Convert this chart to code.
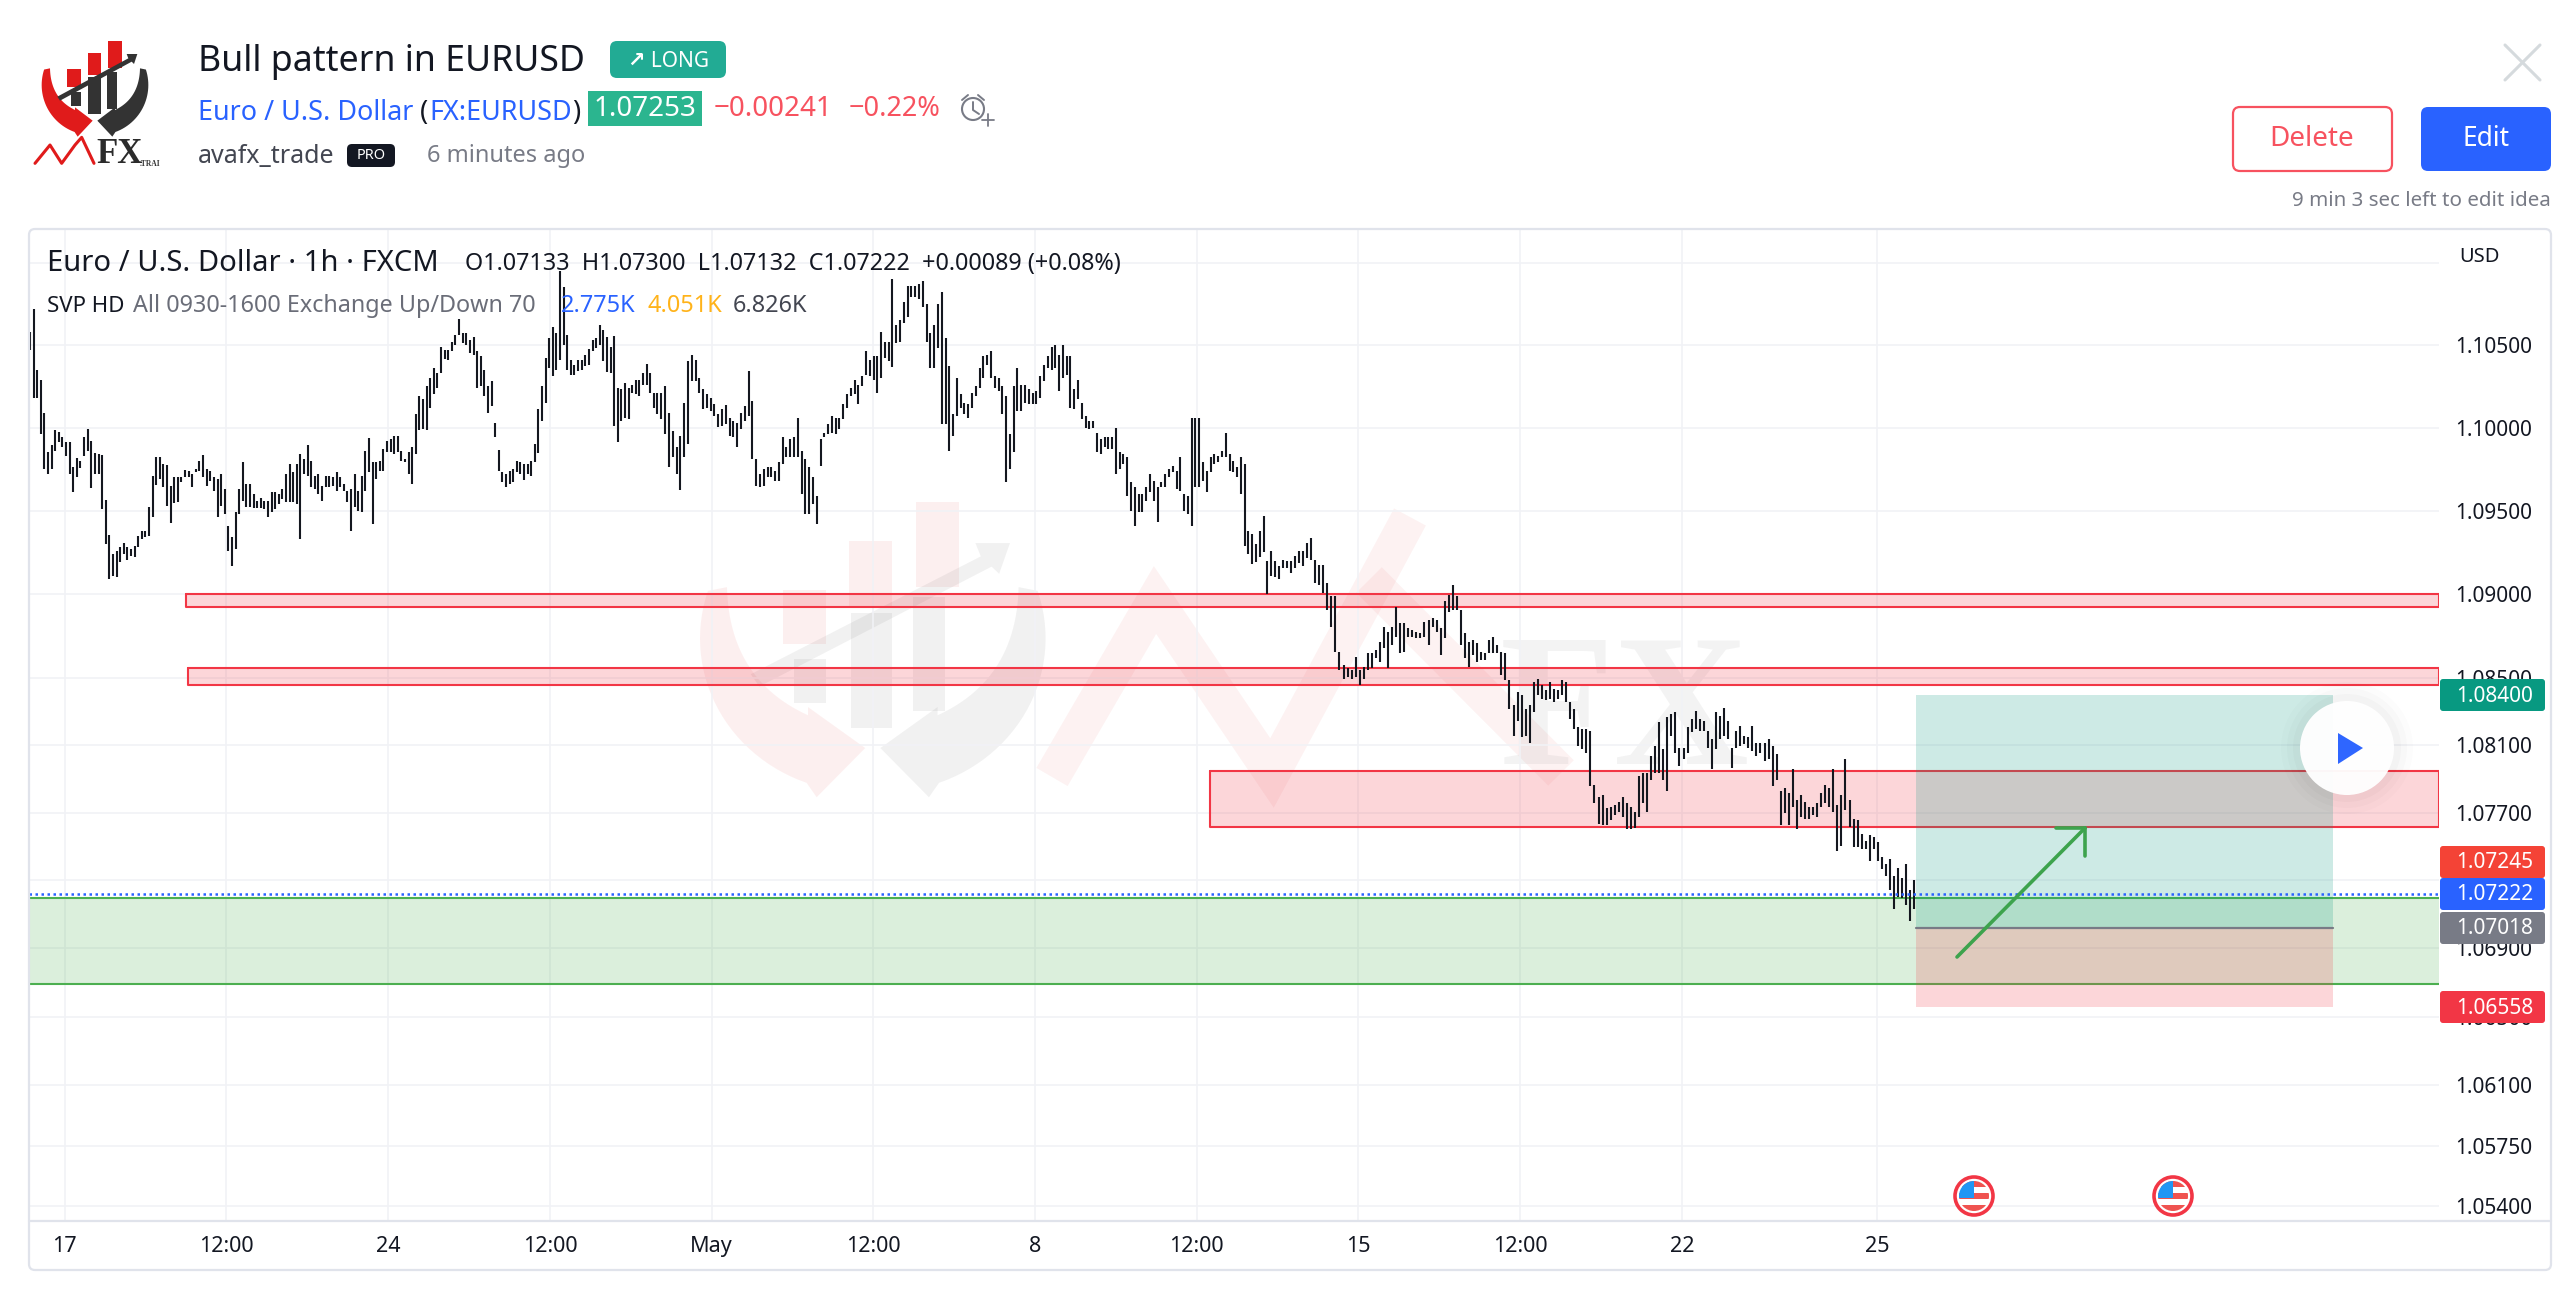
import numpy as np, pandas as pd, seaborn as sns
import matplotlib
matplotlib.use("Agg")
import matplotlib.pyplot as plt
from matplotlib.patches import Rectangle, Circle, Polygon, FancyBboxPatch
from matplotlib.lines import Line2D
from matplotlib.transforms import Affine2D
from matplotlib.ticker import NullLocator, NullFormatter

# ---- data: hourly bar (high, low) in price points (price x 100000)
bars_april = [
(110580,110470),(110720,110180),(110350,110180),(110290,109960),(110086,109750),(109850,109720),(109896,109750),(109984,109860),
(109976,109910),(109940,109880),(109910,109830),(109910,109720),(109760,109614),(109816,109700),(109800,109756),(109940,109830),
(109990,109860),(109920,109636),(109844,109720),(109840,109720),(109836,109510),(109564,109300),(109354,109090),(109240,109110),
(109256,109104),(109280,109190),(109308,109240),(109280,109204),(109270,109230),(109290,109224),(109350,109280),(109380,109330),
(109380,109340),(109520,109350),(109710,109460),(109824,109656),(109820,109690),(109780,109640),(109776,109530),(109650,109424),
(109704,109544),(109700,109550),(109704,109670),(109744,109700),(109740,109700),(109720,109640),(109750,109730),(109800,109740),
(109836,109700),(109750,109650),(109740,109680),(109700,109620),(109690,109460),(109720,109530),(109630,109480),(109410,109260),
(109340,109170),(109490,109270),(109630,109480),(109790,109560),(109660,109520),(109660,109520),(109600,109516),(109560,109516),
(109576,109516),(109560,109510),(109560,109464),(109610,109490),(109610,109510),(109600,109540),(109630,109570),(109720,109550),
(109780,109550),(109730,109550),(109780,109540),(109840,109330),(109810,109720),(109894,109710),(109800,109640),(109710,109630),
(109720,109600),(109650,109556),(109710,109640),(109710,109640),(109700,109650),(109730,109620),(109700,109640),(109660,109620),
(109620,109550),(109630,109376),(109720,109520),(109620,109500),(109710,109490),(109860,109620),(109934,109730),(109790,109420),
(109790,109690),(109800,109740),(109870,109740),(109920,109850),(109930,109850),(109950,109840),(109950,109850),(109860,109800),
(109810,109790),(109850,109720),(109880,109660),(110080,109840),(110190,109984),(110170,109990),(110250,109986),(110300,110120),
(110360,110200),(110330,110240),(110490,110330),(110470,110416),(110470,110410),(110520,110460),(110560,110500),(110660,110560),
(110570,110510),(110570,110500),(110530,110450),(110550,110440),(110460,110240),(110430,110250),(110350,110190),(110250,110090),
(110280,110130),(110030,109940),(109864,109740),(109730,109670),(109720,109640),(109740,109660),(109750,109670),(109800,109730),
(109790,109720),(109780,109684),(109780,109720),(109800,109710),(109900,109790),(110110,109844),(110250,110040),(110420,110150),
(110540,110360),(110610,110310),(110570,110350),(110950,110410),(110850,110500),(110560,110350),(110410,110320),(110380,110316),
(110410,110340),(110410,110350),(110440,110370),(110476,110380),(110530,110460),(110540,110480),(110620,110500),(110590,110400),
(110550,110334),(110490,110330),(110556,110010),(110240,109914),(110230,110040),(110270,110060),(110240,110050),(110260,110210),
(110290,110200),(110290,110190),(110330,110260),(110384,110260),(110330,110210),(110210,110120),(110210,110080)]
bars_early_may = [
(110210,110050),(110250,109960),(110090,109760),(109980,109820),(109880,109720),(109950,109624),(110150,109820),(110400,109900),
(110436,110280),(110410,110280),(110300,110210),(110230,110110),(110200,110120),(110180,110100),(110140,110070),(110080,110004),
(110110,110010),(110136,110020),(110060,109950),(110040,109940),(110030,109880),(110090,109990),(110130,110040),(110340,110070),
(110160,109810),(109810,109650),(109720,109640),(109750,109650),(109760,109700),(109760,109700),(109740,109680),(109790,109680),
(109940,109780),(109880,109820),(109930,109820),(109940,109820),(110060,109820),(109860,109600),(109810,109480),(109760,109480),
(109700,109540),(109590,109420),(109930,109770),(109970,109940),(110020,109960),(110070,109970),(110060,109960),(110060,109990),
(110140,110050),(110200,110120),(110240,110190),(110290,110200),(110260,110140),(110310,110250),(110460,110320),(110410,110310),
(110430,110290),(110430,110210),(110580,110300),(110520,110420),(110520,110400),(110900,110364),(110620,110510),(110650,110520),
(110760,110630),(110860,110670),(110860,110790),(110860,110790),(110870,110780),(110890,110730),(110750,110520),(110570,110360),
(110620,110360),(110750,110480),(110820,110020),(110540,110020),(110370,109860),(110080,109950),(110300,110070),(110200,110120),
(110150,110080),(110140,110060),(110210,110120),(110250,110190),(110360,110240),(110430,110300),(110440,110380),(110460,110300),
(110310,110240),(110300,110220),(110250,110080),(110190,109670),(109960,109750),(110250,109850),(110360,110100),(110260,110100),
(110260,110150),(110230,110140),(110210,110140),(110220,110140),(110310,110180),(110380,110280),(110430,110360),(110490,110350),
(110500,110360),(110440,110220),(110500,110300),(110430,110320),(110430,110120),(110230,110110),(110290,110170),(110150,110050),
(110070,110000),(110040,109990),(110040,110000),(109970,109850),(109930,109840),(109940,109880),(109940,109870),(109940,109870),
(110000,109720),(109850,109750),(109840,109780),(109820,109590),(109670,109500),(109640,109410),(109600,109490),(109600,109490),
(109640,109560),(109720,109610),(109680,109560),(109640,109430),(109670,109640),(109720,109640),(109750,109700),(109770,109730),
(109740,109630),(109820,109620),(109600,109500),(109590,109480),(110060,109410),(110060,109640),(110060,109640),(109790,109680),
(109740,109610),(109820,109730),(109840,109780),(109830,109790),(109860,109820),(109970,109820),(109840,109740),(109800,109730),
(109760,109700),(109820,109600),(109780,109290),(109380,109240),(109360,109180),(109300,109190),(109380,109220),(109470,109250),
(109200,109000),(109260,109110),(109200,109100),(109170,109090)]
bars_late_may = [
(109205,109155),(109195,109155),(109195,109125),(109225,109155),(109255,109185),(109255,109165),(109305,109215),(109335,109205),
(109205,109065),(109175,109055),(109175,109005),(109065,108905),(108985,108805),(108985,108655),(108655,108545),(108575,108495),
(108555,108505),(108545,108495),(108625,108505),(108545,108455),(108565,108495),(108645,108545),(108645,108555),(108665,108615),
(108715,108595),(108805,108675),(108775,108559),(108805,108695),(108919,108745),(108825,108645),(108825,108655),(108795,108745),
(108785,108745),(108775,108735),(108765,108739),(108835,108745),(108845,108695),(108855,108805),(108845,108775),(108795,108635),
(108955,108735),(108995,108895),(109055,108905),(108985,108905),(108905,108695),(108765,108615),(108715,108565),(108725,108635),
(108705,108595),(108655,108605),(108645,108605),(108725,108645),(108745,108645),(108695,108645),(108655,108515),(108645,108485),
(108485,108315),(108335,108155),(108415,108245),(108395,108145),(108315,108155),(108335,108111),(108475,108295),(108495,108395),
(108455,108375),(108425,108365),(108475,108375),(108435,108355),(108425,108375),(108485,108395),(108475,108355),(108355,108255),
(108315,108195),(108205,108095),(108195,108075),(108195,108055),(108185,107855),(107865,107755),(107795,107635),(107805,107625),
(107725,107625),(107735,107655),(107745,107685),(107765,107705),(107795,107675),(107755,107605),(107735,107605),(107705,107611),
(107915,107675),(107935,107755),(107935,107705),(108035,107895),(108095,107935),(108235,107935),(108075,107895),(108265,107825),
(108285,108155),(108295,108055),(108085,107975),(108085,108015),(108205,108055),(108255,108175),(108305,108195),(108255,108185),
(108245,108185),(108185,108085),(108135,107955),(108295,108075),(108275,108135),(108319,108155),(108245,108135),(108085,107965),
(108185,108085),(108215,108095),(108155,108105),(108145,108085),(108215,108065),(108115,108035),(108115,108055),(108115,108005),
(108135,108015),(108095,107855),(108045,107895),(107825,107625),(107845,107695),(107815,107625),(107955,107735),(107775,107605),
(107805,107675),(107765,107665),(107735,107665),(107735,107685),(107755,107675),(107815,107735),(107865,107755),(107845,107735),
(107955,107705),(107745,107475),(107805,107505),(108015,107715),(107775,107615),(107665,107495),(107655,107495),(107575,107485),
(107535,107485),(107565,107415),(107555,107485),(107525,107415),(107435,107365),(107395,107325),(107425,107245),(107325,107131),
(107375,107205),(107315,107195),(107395,107155),(107245,107059),(107300,107132)]

price_ticks = [1.054,1.0575,1.061,1.065,1.069,1.073,1.077,1.081,1.085,1.09,1.095,1.10,1.105,1.11]
price_tick_labels = ["1.05400","1.05750","1.06100","1.06500","1.06900","","1.07700","1.08100",
                     "1.08500","1.09000","1.09500","1.10000","1.10500",""]
time_tick_labels = ["17","12:00","24","12:00","May","12:00","8","12:00","15","12:00","22","25"]
time_tick_bars = [8.6,48.6,88.6,128.6,168.6,208.6,248.6,288.6,328.6,368.6,408.6,456.9]

zone_prices = [(1.09000,1.08919),(1.08555,1.08459),(1.07945,1.07615)]
zone_start_bars = [38.6,39.2,291.9]
support_zone = (1.07195,1.06692)
last_price = 1.07222
target_price, entry_price, stop_price = 1.08400,1.07018,1.06558
price_labels = ["1.08400","1.07245","1.07222","1.07018","1.06558"]
price_label_colors = ["#089981","#f44336","#2962ff","#787b86","#f23645"]
price_label_tops = [679,846,878,912,991]

# ---- theme
sns.set_theme(style="white")
plt.rcParams['font.family'] = ['Noto Sans','DejaVu Sans']
W,H = 2560,1294
fig = plt.figure(figsize=(W/100,H/100),dpi=100,facecolor="white")
PX = Affine2D().scale(1,-1).translate(0,H)   # picture pixels (origin top left) to display
L,R,T,B = 29,2439,229,1221
ax = fig.add_axes([L/W,(H-B)/H,(R-L)/W,(B-T)/H],facecolor="none")
ax.set_zorder(0)

# ---- bars through seaborn
def frame(seg,start,stop):
    a = np.array(seg,dtype=float)/1e5
    x = np.linspace(start,stop,len(a))
    return pd.DataFrame({"bar":np.r_[x,x],"bar_id":np.r_[x,x],"price":np.r_[a[:,0],a[:,1]]})
df = pd.concat([frame(bars_april,0,155.2),frame(bars_early_may,156.2,308.9),frame(bars_late_may,309.9,466.1)])
ax.set_yscale("log")
sns.lineplot(data=df,x="bar",y="price",units="bar_id",estimator=None,sort=False,color="#14171f",
             lw=1.5,ax=ax,legend=False,zorder=3,solid_capstyle="butt")
ax.set_xlim(-0.25,595.9)
ax.set_ylim(1.05313,1.11205)
ax.set(xlabel="",ylabel="")
ax.yaxis.tick_right()
ax.yaxis.set_minor_locator(NullLocator()); ax.yaxis.set_minor_formatter(NullFormatter())
ax.set_yticks(price_ticks); ax.set_yticklabels(price_tick_labels)
ax.set_xticks(time_tick_bars); ax.set_xticklabels(time_tick_labels)
ax.tick_params(axis="y",length=0,pad=12,labelsize=15,labelcolor="#131722")
ax.tick_params(axis="x",length=0,pad=11,labelsize=15.5,labelcolor="#131722")
ax.get_xticklabels()[4].set_fontweight("bold")
ax.grid(True,color="#f1f2f6",lw=1.2); ax.set_axisbelow(True)
for s in ax.spines.values(): s.set_visible(False)

# ---- logo shared by header and watermark
def logo_parts():
    th = np.radians(np.linspace(198,110,30))
    outer = np.c_[215+150*np.cos(th),165+150*np.sin(th)]
    t = np.linspace(1,0,30)
    inner = np.c_[(1-t)**2*90+2*t*(1-t)*92+t**2*165,(1-t)**2*115+2*t*(1-t)*205+t**2*240]
    red = np.r_[outer,[[173,320],[218,272],[165,232]],inner]
    dark = red.copy(); dark[:,0] = 450-dark[:,0]
    parts = [(red,"#e01b1b")]
    parts.append((dark,"#333333"))
    for x0,x1,y0,y1 in [(142,182,118,170),(203,243,70,135),(265,305,32,115)]:
        parts.append((np.array([[x0,y0],[x1,y0],[x1,y1],[x0,y1]]),"#e01b1b"))
    for x0,x1,y0,y1 in [(152,182,185,228),(205,243,140,252),(262,292,125,236)]:
        parts.append((np.array([[x0,y0],[x1,y0],[x1,y1],[x0,y1]]),"#333333"))
    parts.append((np.array([[112,200],[325,85],[320,72],[352,72],[342,102],[335,95],[120,212]]),"#333333"))
    return parts
def draw_logo(sx,sy,ox,oy,alpha,target,z):
    for pts,col in logo_parts():
        p = Polygon(np.c_[ox+pts[:,0]*sx,oy+pts[:,1]*sy],closed=True,fc=col,ec="none",alpha=alpha,
                    transform=PX,zorder=z)
        target(p)
# watermark
draw_logo(1.08,1.025,700-65*1.08,500-30*1.025,0.065,ax.add_artist,0.5)
for xs,ys in (([1052,1155,1272,1410],[777,600,773,517]),([1369,1561],[580,773])):
    ax.add_artist(Line2D(xs,ys,color="#e01b1b",alpha=0.055,lw=26,transform=PX,zorder=0.5,
                         solid_joinstyle="miter",solid_capstyle="butt"))
ax.text(1625,718,"FX",transform=PX,ha="center",va="center",family="Liberation Serif",fontweight="bold",
        fontsize=135,color="#333333",alpha=0.055,zorder=0.5)

# ---- analysis zones
xr = ax.get_xlim()[1]
for (top,bot),start in zip(zone_prices,zone_start_bars):
    ax.fill_between([start,xr],[bot,bot],[top,top],color="#f23645",alpha=0.2,lw=0,zorder=2)
    ax.plot([start,xr,xr,start,start],[top,top,bot,bot,top],color="#f23645",lw=1.5,zorder=2.2,clip_on=True)
ax.fill_between([-0.25,xr],[support_zone[1]]*2,[support_zone[0]]*2,color="#4caf50",alpha=0.2,lw=0,zorder=2)
for v in support_zone:
    ax.axhline(v,color="#4caf50",lw=1.5,zorder=2.2)
ax.axhline(last_price,color="#2962ff",lw=1.8,ls=(0,(1,1.4)),zorder=4)
# long position tool
x0,x1 = 466.5,569.7
ax.fill_between([x0,x1],[entry_price]*2,[target_price]*2,color="#089981",alpha=0.2,lw=0,zorder=2.5)
ax.fill_between([x0,x1],[stop_price]*2,[entry_price]*2,color="#f23645",alpha=0.2,lw=0,zorder=2.5)
ax.plot([x0,x1],[entry_price]*2,color="#787b86",lw=1.6,zorder=3)
for xs,ys in (([1957,2085],[957,828]),([2056,2085],[828,828]),([2085,2085],[828,856])):
    ax.add_artist(Line2D(xs,ys,color="#3da34d",lw=2.6,transform=PX,zorder=5,solid_capstyle="round"))

# ---- helpers for chrome
def box(x0,y0,x1,y1,fc,ec="none",lw=0,r=6,z=5,alpha=1):
    p = FancyBboxPatch((x0,y0),x1-x0,y1-y0,boxstyle=f"round,pad=0,rounding_size={r}",fc=fc,ec=ec,lw=lw,
                       transform=PX,zorder=z,alpha=alpha,mutation_aspect=1)
    fig.add_artist(p); return p
def txt(x,y,s,size=15,color="#131722",ha="left",weight="normal",z=6,**k):
    return fig.text(x,y+4.5,s,transform=PX,fontsize=size,color=color,ha=ha,va="center",fontweight=weight,zorder=z,**k)
def line(xs,ys,color,lw,z=6):
    fig.add_artist(Line2D(xs,ys,color=color,lw=lw,transform=PX,zorder=z,solid_capstyle="round"))

# frame drawn over chart, under labels
box(L,T,2551,1270,"none",ec="#e0e3eb",lw=1.6,r=6,z=1)
line([L,2551],[B,B],"#e0e3eb",1.6,z=1)

# price labels
for s,c,t in zip(price_labels,price_label_colors,price_label_tops):
    p = FancyBboxPatch((2440,t),105,32,boxstyle="round,pad=0,rounding_size=3",fc=c,ec="none",transform=PX,zorder=5)
    fig.add_artist(p)
    txt(2456,t+12.5,s,size=15,color="white")
txt(2459,253,"USD",size=14.5)

# header
draw_logo(1/3,1/3,20,30,1,fig.add_artist,4)
pts = np.array([[45,400],[90,345],[125,400],[165,345],[185,322],[222,400]])
line(20+pts[:,0]/3,30+pts[:,1]/3,"#e01b1b",2.2)
txt(96,150,"FX",size=25,color="#2b2b2b",family="Liberation Serif",weight="bold")
txt(140,159,".TRAI",size=5.5,color="#333333",family="Liberation Serif",weight="bold")
txt(198,57,"Bull pattern in EURUSD",size=25.7)
box(610,41,726,78,"#22ab94",r=7)
txt(668,57,"↗ LONG",size=15,color="white",ha="center",weight="semibold")
txt(198,109,"Euro / U.S. Dollar",size=19.4,color="#2962ff")
txt(420,109,"(",size=19.4); txt(429,109,"FX:EURUSD",size=19.4,color="#2962ff"); txt(572,109,")",size=19.4)
fig.add_artist(Rectangle((588,91),114,35,fc="#2bb58f",ec="none",transform=PX,zorder=5))
txt(645,104,"1.07253",size=20,color="white",ha="center")
txt(714,104,"−0.00241",size=20,color="#f7525f")
txt(849,104,"−0.22%",size=19.5,color="#f7525f")
fig.add_artist(Circle((973,109),11,fc="none",ec="#787b86",lw=1.5,transform=PX,zorder=6))
line([973,973,979],[102,110,114],"#787b86",1.4)
line([962,968],[100,95],"#787b86",1.4); line([978,984],[95,100],"#787b86",1.4)
line([988,988],[114,126],"#787b86",1.3); line([982,994],[120,120],"#787b86",1.3)
txt(198,152,"avafx_trade",size=18,color="#434651")
box(347,144,395,167,"#131722",r=5)
txt(371,151,"PRO",size=10.5,color="white",ha="center",weight="bold")
txt(427,152,"6 minutes ago",size=17,color="#787b86")
line([2505,2540],[45,80],"#d5dadd",2.2); line([2505,2540],[80,45],"#d5dadd",2.2)
box(2233,107,2392,171,"white",ec="#f7525f",lw=1.6,r=7)
txt(2312,135,"Delete",size=20,color="#f7525f",ha="center")
box(2421,107,2551,171,"#2962ff",r=7)
txt(2486,135,"Edit",size=19,color="white",ha="center")
txt(2551,196,"9 min 3 sec left to edit idea",size=14.8,color="#787b86",ha="right")

# legend lines in chart
txt(47,259,"Euro / U.S. Dollar · 1h · FXCM",size=21)
txt(465,259,"O1.07133  H1.07300  L1.07132  C1.07222  +0.00089 (+0.08%)",size=16.8)
txt(47,302,"SVP HD",size=16)
txt(133,302,"All 0930-1600 Exchange Up/Down 70",size=16.8,color="#6a6d78")
txt(561,302,"2.775K",size=16.9,color="#2962ff")
txt(648,302,"4.051K",size=16.9,color="#ffb31a")
txt(733,302,"6.826K",size=16.9,color="#434651")

# play button
for r,a in ((66,0.012),(60,0.015),(54,0.02)):
    fig.add_artist(Circle((2347,748),r,fc="black",ec="none",alpha=a,transform=PX,zorder=5))
fig.add_artist(Circle((2347,748),47,fc="white",ec="none",alpha=0.96,transform=PX,zorder=5))
fig.add_artist(Polygon([[2338,733],[2363,748],[2338,764]],closed=True,fc="#2f66ff",ec="none",transform=PX,zorder=6))

# US event flags
for cx in (1974,2173):
    cy = 1196
    clip = Circle((cx,cy),15,transform=PX)
    fig.add_artist(Circle((cx,cy),19,fc="white",ec="#f23645",lw=2.6,transform=PX,zorder=6))
    for y0,h,c in ((cy-15,6,"#ef5350"),(cy-3,6,"#ef5350"),(cy+9,7,"#ef5350")):
        r_ = Rectangle((cx-15,y0),30,h,fc=c,ec="none",transform=PX,zorder=6.1)
        fig.add_artist(r_); r_.set_clip_path(clip)
    r_ = Rectangle((cx-15,cy-15),15,17,fc="#2196f3",ec="none",transform=PX,zorder=6.2)
    fig.add_artist(r_); r_.set_clip_path(clip)

fig.savefig("out.png",dpi=100,facecolor="white")
